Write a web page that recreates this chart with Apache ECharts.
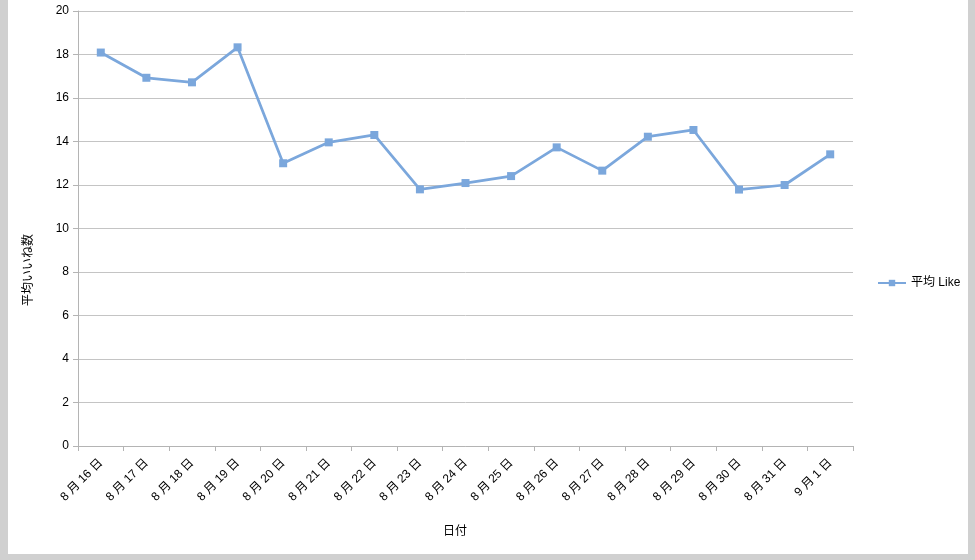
<!DOCTYPE html>
<html>
<head>
<meta charset="utf-8">
<script src="https://cdn.jsdelivr.net/npm/echarts@6/dist/echarts.min.js"></script>
<style>
html,body{margin:0;padding:0;background:#d0d0d0;width:975px;height:560px;overflow:hidden;}
#chart{position:absolute;left:8px;top:0;width:960px;height:554px;background:#ffffff;}
</style>
</head>
<body>
<div id="chart"></div>
<script>
const categories = ['8 月 16 日','8 月 17 日','8 月 18 日','8 月 19 日','8 月 20 日','8 月 21 日','8 月 22 日','8 月 23 日','8 月 24 日','8 月 25 日','8 月 26 日','8 月 27 日','8 月 28 日','8 月 29 日','8 月 30 日','8 月 31 日','9 月 1 日'];
const avgLike = [18.09, 16.93, 16.72, 18.33, 13.0, 13.96, 14.30, 11.80, 12.09, 12.41, 13.73, 12.66, 14.22, 14.53, 11.79, 12.0, 13.41];
const seriesName = '平均 Like';
const xTitle = '日付';
const yTitle = '平均いいね数';
const yMin = 0, yMax = 20, yStep = 2;

const font = "'Liberation Sans', 'Noto Sans CJK JP', sans-serif";
const lineColor = '#7ba7dc';
const chart = echarts.init(document.getElementById('chart'), null, {renderer:'canvas'});
chart.setOption({
  animation: false,
  textStyle: {fontFamily: font},
  grid: {left: 70, right: 115, top: 11, bottom: 108, containLabel: false},
  legend: {
    data: [seriesName], orient: 'vertical', left: 864, top: 272,
    itemWidth: 28, itemHeight: 8, itemGap: 5,
    textStyle: {fontFamily: font, fontSize: 12, color: '#000'}
  },
  xAxis: {
    type: 'category', data: categories, boundaryGap: true,
    axisLine: {lineStyle: {color: '#b4b4b4', width: 1}},
    axisTick: {show: true, length: 5, interval: 0, lineStyle: {color: '#b4b4b4'}},
    axisLabel: {rotate: 45, interval: 0, margin: 15, fontSize: 12, color: '#000', fontFamily: font},
    splitLine: {show: false}
  },
  yAxis: {
    type: 'value', min: yMin, max: yMax, interval: yStep,
    axisLine: {show: true, lineStyle: {color: '#b4b4b4', width: 1}},
    axisTick: {show: true, length: 5, lineStyle: {color: '#b4b4b4'}},
    axisLabel: {margin: 9, fontSize: 12, color: '#000', fontFamily: font},
    splitLine: {show: true, lineStyle: {color: '#c4c4c4', width: 1}}
  },
  graphic: [
    {type: 'text', x: 447, y: 532, style: {text: xTitle, fontSize: 12, fill: '#000', fontFamily: font, align: 'center', verticalAlign: 'middle'}},
    {type: 'text', x: 21, y: 270, rotation: Math.PI/2, style: {text: yTitle, fontSize: 12, fill: '#000', fontFamily: font, align: 'center', verticalAlign: 'middle'}}
  ],
  series: [{
    name: seriesName, type: 'line', data: avgLike,
    symbol: 'rect', symbolSize: 8, showSymbol: true,
    lineStyle: {color: lineColor, width: 2.75},
    itemStyle: {color: lineColor}
  }]
});
</script>
</body>
</html>
